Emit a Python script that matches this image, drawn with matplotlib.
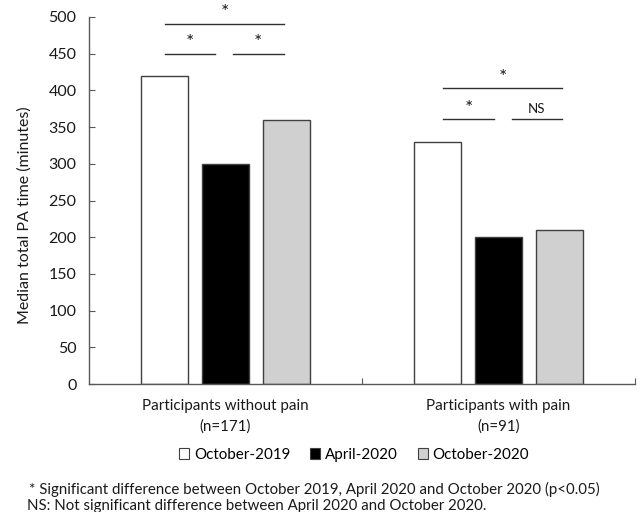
import matplotlib
matplotlib.use("Agg")
import matplotlib.pyplot as plt
import numpy as np
from matplotlib.patches import Patch

plt.rcParams['font.family'] = ['Lato', 'DejaVu Sans']

groups = ["Participants without pain\n(n=171)", "Participants with pain\n(n=91)"]
periods = ["October-2019", "April-2020", "October-2020"]
oct2019 = [420, 330]
apr2020 = [300, 200]
oct2020 = [360, 210]
series = [oct2019, apr2020, oct2020]
fills = ["white", "black", "#d0d0d0"]
y_ticks = [0, 50, 100, 150, 200, 250, 300, 350, 400, 450, 500]

# significance brackets: (group, x0, x1, y, label)
brackets = [
    (0, -0.22, 0.215, 491, "*"),
    (0, -0.22, -0.04, 450, "*"),
    (0, 0.026, 0.215, 450, "*"),
    (1, -0.205, 0.234, 403, "*"),
    (1, -0.205, -0.015, 361, "*"),
    (1, 0.048, 0.234, 361, "NS"),
]

fig = plt.figure(figsize=(6.43, 5.12), dpi=100)
ax = fig.add_axes([89 / 643, 1 - 384 / 512, (635 - 89) / 643, (384 - 17) / 512])

x = np.arange(len(groups))
offset = 0.223
width = 0.172
edge = "#404040"
for i, (vals, fc) in enumerate(zip(series, fills)):
    ax.bar(x + (i - 1) * offset, vals, width, color=fc, edgecolor=edge,
           linewidth=1.0, zorder=2)

for g, x0, x1, y, lab in brackets:
    ax.plot([g + x0, g + x1], [y, y], color="#303030", lw=1.0, clip_on=False)
    if lab == "*":
        ax.text(g + (x0 + x1) / 2, y + 3, lab, ha="center", va="bottom",
                fontsize=14, color="#1a1a1a", clip_on=False)
    else:
        ax.text(g + (x0 + x1) / 2, y + 6, lab, ha="center", va="bottom",
                fontsize=9.5, color="#1a1a1a", clip_on=False)

ax.set_xlim(-0.5, 1.5)
ax.set_ylim(0, 500)
ax.set_yticks(y_ticks)
ax.set_yticklabels([str(v) for v in y_ticks], fontsize=11.5, color="#1a1a1a")
ax.tick_params(axis="y", direction="in", length=4, color="#595959", pad=9)

ax.set_xticks([0.5, 1.5])
ax.set_xticklabels([])
ax.set_xticks(x, minor=True)
ax.set_xticklabels(groups, minor=True, fontsize=10.9, color="#1a1a1a",
                   linespacing=1.55)
ax.tick_params(axis="x", which="major", direction="in", length=4, color="#595959")
ax.tick_params(axis="x", which="minor", length=0, pad=11)

for s in ["top", "right"]:
    ax.spines[s].set_visible(False)
for s in ["left", "bottom"]:
    ax.spines[s].set_color("#595959")
    ax.spines[s].set_linewidth(1.0)

ax.set_ylabel("Median total PA time (minutes)", fontsize=11.5, color="#1a1a1a")
ax.yaxis.set_label_coords(-0.105, 0.46)

handles = [Patch(facecolor=fc, edgecolor=edge, linewidth=0.8) for fc in fills]
fig.legend(handles, periods, loc="center", bbox_to_anchor=(354 / 643, 1 - 455 / 512),
           ncol=3, frameon=False, fontsize=10.9, handlelength=0.7, handleheight=0.7,
           handletextpad=0.3, columnspacing=1.3)

fig.text(29 / 643, 1 - 489 / 512,
         "* Significant difference between October 2019, April 2020 and October 2020 (p<0.05)",
         fontsize=10.8, va="center", ha="left", color="#1a1a1a")
fig.text(27 / 643, 1 - 506 / 512,
         "NS: Not significant difference between April 2020 and October 2020.",
         fontsize=10.8, va="center", ha="left", color="#1a1a1a")

fig.savefig("out.png", dpi=100)
